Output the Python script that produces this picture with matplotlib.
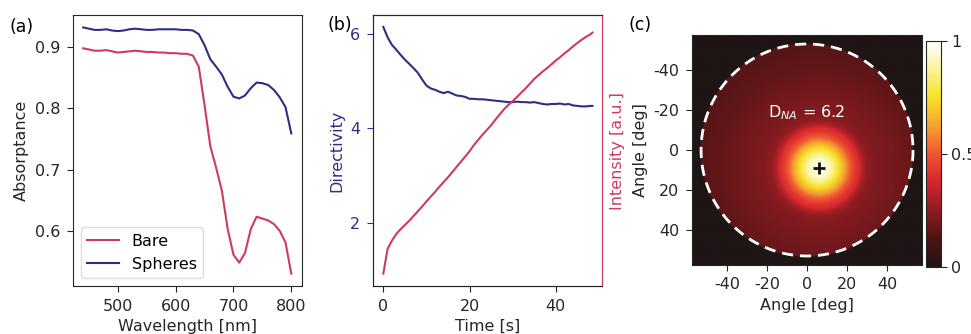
import numpy as np
import matplotlib
matplotlib.use("Agg")
import matplotlib.pyplot as plt
from matplotlib.colors import LinearSegmentedColormap

plt.rcParams['font.family'] = ['DejaVu Sans']
plt.rcParams['axes.unicode_minus'] = False
plt.rcParams['axes.edgecolor'] = '#262626'
plt.rcParams['xtick.color'] = '#262626'
plt.rcParams['ytick.color'] = '#262626'
plt.rcParams['axes.labelcolor'] = '#262626'
plt.rcParams['xtick.labelsize'] = 11.5
plt.rcParams['ytick.labelsize'] = 11.5
plt.rcParams['axes.labelsize'] = 11.5
plt.rcParams['xtick.major.size'] = 4.5
plt.rcParams['ytick.major.size'] = 4.5
plt.rcParams['xtick.major.pad'] = 4.5
plt.rcParams['ytick.major.pad'] = 4.5

RED = '#cf3a5f'
NAVY = '#2d2e85'

# (a) absorptance spectra
wavelength = np.arange(440, 801, 10)
bare = [0.898, 0.896, 0.894, 0.894, 0.895, 0.893, 0.891, 0.892, 0.893, 0.894,
        0.893, 0.892, 0.892, 0.891, 0.891, 0.890, 0.890, 0.889, 0.889, 0.886,
        0.868, 0.805, 0.738, 0.703, 0.665, 0.603, 0.561, 0.548, 0.564, 0.603,
        0.623, 0.620, 0.617, 0.611, 0.600, 0.581, 0.530]
spheres = [0.932, 0.930, 0.928, 0.928, 0.929, 0.927, 0.926, 0.927, 0.929, 0.930,
           0.929, 0.928, 0.928, 0.929, 0.929, 0.929, 0.929, 0.928, 0.928, 0.927,
           0.921, 0.903, 0.880, 0.868, 0.855, 0.835, 0.819, 0.816, 0.821, 0.833,
           0.842, 0.841, 0.838, 0.830, 0.818, 0.802, 0.759]

# (b) directivity and intensity vs time
time = [0, 1, 2, 3, 4, 5, 6, 7, 8, 9, 10, 11, 12, 13, 14, 15, 16, 17, 18, 19,
        20, 21, 22, 23, 24, 25, 26, 27, 28, 29, 30, 31, 32, 33, 34, 35, 36, 37,
        38, 39, 40, 41, 42, 43, 44, 45, 46, 47, 48, 48.5]
directivity = [6.14, 5.92, 5.76, 5.66, 5.55, 5.45, 5.36, 5.27, 5.17, 5.03,
               4.90, 4.84, 4.81, 4.77, 4.74, 4.77, 4.73, 4.69, 4.68, 4.66,
               4.62, 4.62, 4.61, 4.61, 4.60, 4.59, 4.58, 4.57, 4.56, 4.55,
               4.55, 4.56, 4.55, 4.55, 4.54, 4.55, 4.53, 4.51, 4.50, 4.51,
               4.51, 4.52, 4.50, 4.51, 4.48, 4.47, 4.46, 4.46, 4.47, 4.47]
intensity = [0.92, 1.45, 1.62, 1.76, 1.86, 1.95, 2.04, 2.14, 2.24, 2.34,
             2.45, 2.55, 2.65, 2.76, 2.86, 2.96, 3.07, 3.18, 3.29, 3.40,
             3.51, 3.64, 3.75, 3.86, 3.96, 4.06, 4.18, 4.29, 4.40, 4.49,
             4.57, 4.66, 4.75, 4.84, 4.94, 5.04, 5.12, 5.20, 5.27, 5.35,
             5.43, 5.50, 5.58, 5.65, 5.73, 5.80, 5.87, 5.93, 5.98, 6.02]

# (c) angular emission: radial profile around the peak
peak_xy = (6.2, 9.0)
na_radius = 53.0
prof_r = [0, 5, 9, 12, 15, 18, 20, 22, 24, 28, 40, 50, 60, 80]
prof_v = [1.0, 0.92, 0.78, 0.66, 0.53, 0.43, 0.39, 0.31, 0.26, 0.23, 0.20, 0.17, 0.15, 0.14]
d_na = 6.2

cmap = LinearSegmentedColormap.from_list('emis', [
    (0.0, '#1e1515'), (0.12, '#4a1414'), (0.25, '#8c1c22'), (0.38, '#d8262e'),
    (0.5, '#ee5530'), (0.62, '#f5a032'), (0.75, '#f8e024'), (0.88, '#faf4a0'),
    (1.0, '#ffffff')])

fig = plt.figure(figsize=(9.71, 3.34), dpi=100)

# ---- (a)
ax1 = fig.add_axes([0.0749, 0.1437, 0.2358, 0.811])
ax1.plot(wavelength, bare, color=RED, lw=1.5, label='Bare')
ax1.plot(wavelength, spheres, color=NAVY, lw=1.5, label='Spheres')
ax1.set_xticks([500, 600, 700, 800])
ax1.set_yticks([0.6, 0.7, 0.8, 0.9])
ax1.set_xlabel('Wavelength [nm]')
ax1.set_ylabel('Absorptance')
ax1.legend(loc='lower left', fontsize=11.5, handlelength=2.0, framealpha=1,
           edgecolor='#dddddd', fancybox=True)
fig.text(0.010, 0.919, '(a)', fontsize=12.5, va='center')

# ---- (b)
ax2 = fig.add_axes([0.3841, 0.1437, 0.2358, 0.811])
ax2.plot(time, directivity, color=NAVY, lw=1.5)
ax2.set_xlim(-2.4, 50.7)
ax2.set_ylim(0.66, 6.39)
ax2.set_xticks([0, 20, 40])
ax2.set_yticks([2, 4, 6])
ax2.tick_params(axis='y', colors=NAVY)
ax2.set_xlabel('Time [s]')
ax2.set_ylabel('Directivity', color=NAVY)
ax2b = ax2.twinx()
ax2b.plot(time, intensity, color=RED, lw=1.5)
ax2b.set_ylim(0.66, 6.39)
ax2b.set_yticks([])
ax2b.spines['right'].set_color(RED)
ax2b.set_ylabel('Intensity [a.u.]', color=RED, labelpad=6)
fig.text(0.337, 0.925, '(b)', fontsize=12.5, va='center')

# ---- (c)
ax3 = fig.add_axes([0.7127, 0.2066, 0.2369, 0.6886])
ang = np.linspace(-57.5, 57.5, 240)
X, Y = np.meshgrid(ang, ang)
R = np.hypot(X - peak_xy[0], Y - peak_xy[1])
img = np.interp(R, prof_r, prof_v)
img[np.hypot(X, Y) > na_radius + 0.6] = 0.0
im = ax3.imshow(img, cmap=cmap, vmin=0, vmax=1, origin='upper',
                extent=(-57.5, 57.5, 57.5, -57.5), interpolation='bilinear')
th = np.linspace(0, 2 * np.pi, 400)
ax3.plot(na_radius * np.cos(th), na_radius * np.sin(th), color='white',
         lw=2, ls=(0, (4, 2.5)))
ax3.plot(*peak_xy, marker='+', color='#111111', ms=9, mew=2)
ax3.text(0, -18.5, r'D$_{NA}$ = %.1f' % d_na, color='white', fontsize=11.5,
         ha='center', va='center')
ax3.set_xlim(-57.5, 57.5)
ax3.set_ylim(57.5, -57.5)
ax3.set_xticks([-40, -20, 0, 20, 40])
ax3.set_yticks([-40, -20, 0, 20, 40])
ax3.set_xlabel('Angle [deg]')
ax3.set_ylabel('Angle [deg]')
fig.text(0.647, 0.925, '(c)', fontsize=12.5, va='center')

cax = fig.add_axes([0.9537, 0.2006, 0.0155, 0.677])
cb = fig.colorbar(im, cax=cax, ticks=[0, 0.5, 1])
cb.ax.set_yticklabels(['0', '0.5', '1'])
cb.ax.tick_params(pad=2.5)

fig.savefig('out.png', dpi=100)
